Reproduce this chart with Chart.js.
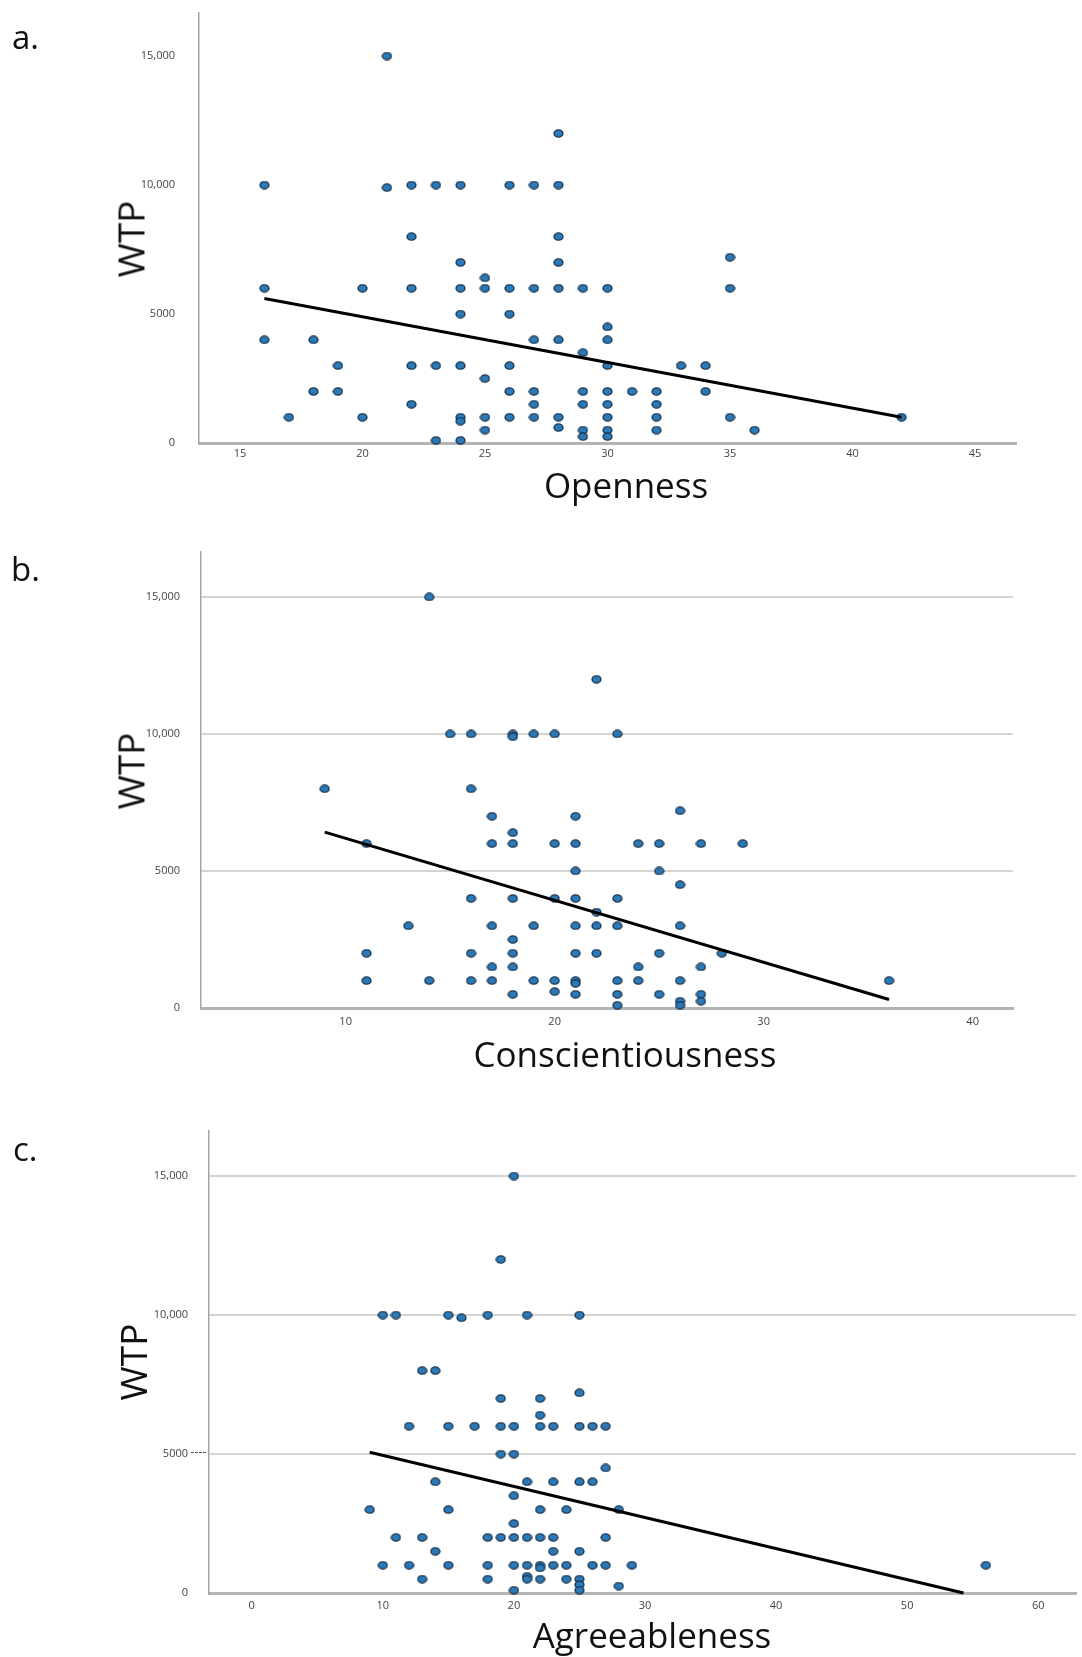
<!DOCTYPE html>
<html>
<head>
<meta charset="utf-8">
<script src="https://cdn.jsdelivr.net/npm/chart.js@4.4.1/dist/chart.umd.min.js"></script>
<style>
html,body{margin:0;padding:0;background:#fff;}
body{width:1082px;height:1657px;position:relative;overflow:hidden;font-family:"Open Sans",sans-serif;}
canvas{position:absolute;left:0;}
.lbl{position:absolute;white-space:nowrap;color:#111;line-height:1;}
.panel{font-size:33px;}
.xt{font-size:35px;transform:translateX(-50%);}
.yt{font-size:37px;transform:translate(-50%,-50%) rotate(-90deg);}
.dash{position:absolute;border-top:1.5px dashed #555;height:0;}
</style>
</head>
<body>
<canvas id="chartA" width="1082" height="475" style="top:0px"></canvas>
<canvas id="chartB" width="1082" height="495" style="top:540px"></canvas>
<canvas id="chartC" width="1082" height="500" style="top:1120px"></canvas>

<div class="lbl panel" style="left:12px;top:20px">a.</div>
<div class="lbl panel" style="left:11px;top:552px">b.</div>
<div class="lbl panel" style="left:13px;top:1132px">c.</div>

<div class="lbl yt" style="left:130px;top:239px">WTP</div>
<div class="lbl yt" style="left:130px;top:771px">WTP</div>
<div class="lbl yt" style="left:132px;top:1362px">WTP</div>

<div class="lbl xt" style="left:626px;top:467px">Openness</div>
<div class="lbl xt" style="left:625px;top:1036px">Conscientiousness</div>
<div class="lbl xt" style="left:652px;top:1617px">Agreeableness</div>

<div class="dash" style="left:191px;top:1452px;width:15px"></div>

<script>
// ---------- shared tick labels ----------
const yTickValues = [0, 5000, 10000, 15000];
const yTickLabels = ['0', '5000', '10,000', '15,000'];

// ---------- a. Openness ----------
const opennessTicks = [15, 20, 25, 30, 35, 40, 45];
const opennessX = [
  16,16,16, 17, 18,18, 19,19, 20,20, 21,21,
  22,22,22,22,22, 23,23,23, 24,24,24,24,24,24,24,24,
  25,25,25,25,25, 26,26,26,26,26,26, 27,27,27,27,27,27,
  28,28,28,28,28,28,28,28, 29,29,29,29,29,29,
  30,30,30,30,30,30,30,30,30, 31, 32,32,32,32, 33, 34,34,
  35,35,35, 36, 42
];
const opennessWTP = [
  10000,6000,4000, 1000, 4000,2000, 3000,2000, 6000,1000, 15000,9900,
  10000,8000,6000,3000,1500, 10000,3000,100, 10000,7000,6000,5000,3000,1000,850,100,
  6400,6000,2500,1000,500, 10000,6000,5000,3000,2000,1000, 10000,6000,4000,2000,1500,1000,
  12000,10000,8000,7000,6000,4000,1000,600, 6000,3500,2000,1500,500,250,
  6000,4500,4000,3000,2000,1500,1000,500,250, 2000, 2000,1500,1000,500, 3000, 3000,2000,
  7200,6000,1000, 500, 1000
];
const opennessFitX = [16, 42];
const opennessFitWTP = [5600, 1000];

// ---------- b. Conscientiousness ----------
const conscTicks = [10, 20, 30, 40];
const conscX = [
  9, 11,11,11, 13, 14,14, 15, 16,16,16,16,16, 17,17,17,17,17,
  18,18,18,18,18,18,18,18,18, 19,19,19, 20,20,20,20,20,
  21,21,21,21,21,21,21,21,21, 22,22,22,22, 23,23,23,23,23,23,
  24,24,24, 25,25,25,25, 26,26,26,26,26,26, 27,27,27,27, 28, 29, 36
];
const conscWTP = [
  8000, 6000,2000,1000, 3000, 15000,1000, 10000, 10000,8000,4000,2000,1000, 7000,6000,3000,1500,1000,
  10000,9900,6400,6000,4000,2500,2000,1500,500, 10000,3000,1000, 10000,6000,4000,1000,600,
  7000,6000,5000,4000,3000,2000,1000,900,500, 12000,3500,3000,2000, 10000,4000,3000,1000,500,100,
  6000,1500,1000, 6000,5000,2000,500, 7200,4500,3000,1000,250,100, 6000,1500,500,250, 2000, 6000, 1000
];
const conscFitX = [9, 36];
const conscFitWTP = [6420, 310];

// ---------- c. Agreeableness ----------
const agreeTicks = [0, 10, 20, 30, 40, 50, 60];
const agreeX = [
  9, 10,10, 11,11, 12,12, 13,13,13, 14,14,14, 15,15,15,15, 16, 17,
  18,18,18,18, 19,19,19,19,19, 20,20,20,20,20,20,20,20,
  21,21,21,21,21,21, 22,22,22,22,22,22,22,22, 23,23,23,23,23,
  24,24,24, 25,25,25,25,25,25,25,25, 26,26,26, 27,27,27,27, 28,28, 29, 56
];
const agreeWTP = [
  3000, 10000,1000, 10000,2000, 6000,1000, 8000,2000,500, 8000,4000,1500, 10000,6000,3000,1000, 9900, 6000,
  10000,2000,1000,500, 12000,7000,6000,5000,2000, 15000,6000,5000,3500,2500,2000,1000,100,
  10000,4000,2000,1000,600,500, 7000,6400,6000,3000,2000,1000,900,500, 6000,4000,2000,1500,1000,
  3000,1000,500, 10000,7200,6000,4000,1500,500,300,100, 6000,4000,1000, 6000,4500,2000,1000, 3000,250, 1000, 1000
];
const agreeFitX = [9, 54.3];
const agreeFitWTP = [5060, 0];

// ---------- marker ----------
function makeDot() {
  const c = document.createElement('canvas');
  c.width = 11; c.height = 9;
  const g = c.getContext('2d');
  g.beginPath();
  g.ellipse(5.5, 4.5, 4.5, 3.6, 0, 0, Math.PI * 2);
  g.fillStyle = '#2b79b6';
  g.fill();
  g.lineWidth = 1.3;
  g.strokeStyle = '#17314c';
  g.stroke();
  return c;
}
const DOT = makeDot();

const tickFont = { family: '"Open Sans", sans-serif', size: 11 };

function makePanel(id, xs, ys, fitX, fitY, xTicks, L) {
  const pts = xs.map((x, i) => ({ x: x, y: ys[i] }));
  const fit = fitX.map((x, i) => ({ x: x, y: fitY[i] }));
  new Chart(document.getElementById(id), {
    type: 'scatter',
    data: {
      datasets: [
        { data: fit, showLine: true, borderColor: '#000', borderWidth: 3, pointRadius: 0,
          pointHoverRadius: 0, order: 0, clip: false },
        { data: pts, pointStyle: DOT, pointRadius: 5, order: 1, clip: false }
      ]
    },
    options: {
      responsive: false,
      animation: false,
      devicePixelRatio: 1,
      events: [],
      layout: { padding: { left: 0, top: L.top, right: L.right, bottom: 0 } },
      plugins: { legend: { display: false }, tooltip: { enabled: false } },
      scales: {
        x: {
          type: 'linear', min: L.xMin, max: L.xMax,
          afterBuildTicks: s => { s.ticks = xTicks.map(v => ({ value: v })); },
          afterFit: s => { s.height = L.xH; s.paddingLeft = 0; s.paddingRight = 0; },
          grid: { display: false, drawTicks: false },
          border: { display: true, color: '#b4b4b4', width: 3 },
          ticks: { padding: L.xPad, color: '#444', font: tickFont, maxRotation: 0, autoSkip: false }
        },
        y: {
          type: 'linear', min: 0, max: L.yMax,
          afterBuildTicks: s => { s.ticks = yTickValues.map(v => ({ value: v })); },
          afterFit: s => { s.width = L.yW; s.paddingTop = 0; s.paddingBottom = 0; },
          grid: { display: L.grid, color: '#d4d4d4', lineWidth: 2, drawTicks: false },
          border: { display: true, color: '#a4a4a4', width: 1.5 },
          ticks: { padding: L.yPad, color: '#444', font: tickFont,
                   callback: v => yTickLabels[yTickValues.indexOf(v)] }
        }
      }
    }
  });
}

makePanel('chartA', opennessX, opennessWTP, opennessFitX, opennessFitWTP, opennessTicks,
  { top: 13, right: 66, yW: 199, xH: 32, xMin: 13.33, xMax: 46.67, yMax: 16667, xPad: 4, yPad: 24, grid: false });
makePanel('chartB', conscX, conscWTP, conscFitX, conscFitWTP, conscTicks,
  { top: 12, right: 69, yW: 201, xH: 27, xMin: 3.08, xMax: 41.93, yMax: 16642, xPad: 7, yPad: 21, grid: true });
makePanel('chartC', agreeX, agreeWTP, agreeFitX, agreeFitWTP, agreeTicks,
  { top: 11, right: 0, yW: 209, xH: 27, xMin: -3.26, xMax: 62.88, yMax: 16619, xPad: 6, yPad: 21, grid: true });
</script>
</body>
</html>
